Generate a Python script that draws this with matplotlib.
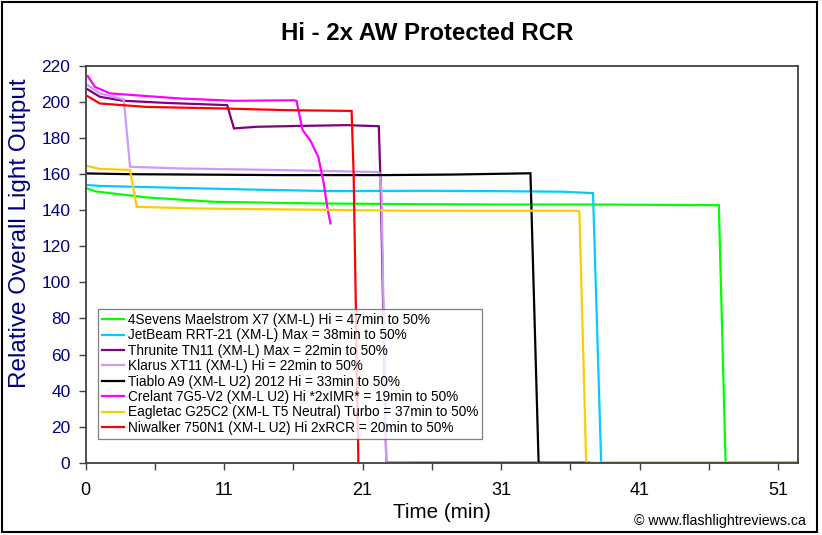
import matplotlib
matplotlib.use("Agg")
import matplotlib.pyplot as plt
from matplotlib.patches import Rectangle

plt.rcParams['font.family'] = ['Liberation Sans', 'DejaVu Sans']

# runtime data (time in min, relative output)
green_t = [0.15, 0.7, 2.0, 4.5, 9.4, 16.7, 23.8, 30.0, 37.0, 42.0, 46.55, 47.05, 52.35]
green_v = [152, 150.5, 149.3, 147.1, 144.7, 143.8, 143.4, 143.2, 143.2, 143.0, 142.8, 0, 0]

blue_t = [0.15, 1.0, 6.9, 12.0, 18.2, 25.0, 30.0, 35.0, 37.3, 37.9, 52.35]
blue_v = [154, 153.5, 152.4, 151.5, 150.6, 150.8, 150.6, 150.3, 149.5, 0, 0]

purple_t = [0.15, 1.05, 2.8, 6.0, 10.4, 10.9, 12.6, 16.0, 19.2, 21.55, 21.7, 22.1, 33.1]
purple_v = [207, 202.9, 200.7, 199.5, 198.3, 185.4, 186.3, 186.8, 187.2, 186.6, 150, 0, 0]

lav_t = [0.15, 1.05, 2.8, 3.26, 6.9, 14.3, 21.4, 21.6, 21.75, 22.1, 23.7]
lav_v = [209.4, 204.8, 201.4, 164.1, 163.2, 162.3, 161.2, 160.7, 150, 0, 0]

black_t = [0.15, 3.3, 14.3, 22.0, 27.0, 32.7, 33.3, 37.0]
black_v = [160.4, 160.0, 159.5, 159.5, 159.8, 160.5, 0, 0]

mag_t = [0.15, 0.68, 1.8, 6.9, 10.85, 15.3, 15.5, 15.95, 16.5, 17.1, 17.5, 17.8, 18.0]
mag_v = [214.4, 208.4, 204.8, 202, 200.7, 201, 200.7, 184.4, 178.9, 169.6, 154.9, 140, 132.7]

yel_t = [0.15, 1.0, 3.26, 3.75, 8.0, 14.3, 23.9, 30.0, 36.2, 36.3, 36.8, 52.35]
yel_v = [164.5, 163, 162.3, 141.9, 141, 140.5, 139.7, 139.7, 139.7, 139, 0, 0]

red_t = [0.15, 1.05, 4.5, 10.4, 14.8, 19.4, 19.55, 19.7, 20.05]
red_v = [203.2, 199.2, 197.3, 196.4, 195.5, 195.1, 195.1, 160, 0]

labels = [
    '4Sevens Maelstrom X7 (XM-L) Hi = 47min to 50%',
    'JetBeam RRT-21 (XM-L) Max = 38min to 50%',
    'Thrunite TN11 (XM-L) Max = 22min to 50%',
    'Klarus XT11 (XM-L) Hi = 22min to 50%',
    'Tiablo A9 (XM-L U2) 2012 Hi = 33min to 50%',
    'Crelant 7G5-V2 (XM-L U2) Hi *2xIMR* = 19min to 50%',
    'Eagletac G25C2 (XM-L T5 Neutral) Turbo = 37min to 50%',
    'Niwalker 750N1 (XM-L U2) Hi 2xRCR = 20min to 50%',
]
colors = ['#00ff00', '#00ccff', '#800080', '#cc99ff', '#000000', '#ff00ff', '#ffcc00', '#ff0000']

xtick_labels = ['0', '11', '21', '31', '41', '51']
label_step = 10.18  # minutes between labelled ticks (excel category axis)
x_max = 52.35

series = [(green_t, green_v), (blue_t, blue_v), (purple_t, purple_v), (lav_t, lav_v),
          (black_t, black_v), (mag_t, mag_v), (yel_t, yel_v), (red_t, red_v)]

fig = plt.figure(figsize=(8.22, 5.35), dpi=100)
ax = fig.add_axes([85.7/822, 1-462.7/535, 712/822, 396.7/535])

for (t, v), c, lab in zip(series, colors, labels):
    ax.plot(t, v, color=c, lw=1.6, label=lab, solid_joinstyle='miter')

ax.set_yticks(range(0, 221, 20))
ax.set_xticks([i*label_step for i in range(len(xtick_labels))])
ax.set_xticklabels(xtick_labels)
minor = [(i+0.5)*label_step for i in range(len(xtick_labels))]
ax.set_xticks([m for m in minor if m < x_max], minor=True)
# limits after the ticks, set_xticks would widen them
ax.set_xlim(0, x_max)
ax.set_ylim(0, 220)

ax.tick_params(axis='y', direction='out', length=5, width=1, colors='#404040',
               labelcolor='#000080', labelsize=12.5, pad=6)
ax.tick_params(axis='x', which='both', direction='out', length=5, width=1, colors='#404040',
               labelcolor='black', labelsize=13, pad=9)
for s in ax.spines.values():
    s.set_color('#404040')
    s.set_linewidth(1.3)

leg = ax.legend(loc='upper left', bbox_to_anchor=(0.0177, 0.3874), borderaxespad=0,
                fontsize=9.8, frameon=True, fancybox=False, handlelength=1.6,
                handletextpad=0.25, labelspacing=0.1, borderpad=0.3)
leg.get_frame().set_edgecolor('#606060')
leg.get_frame().set_linewidth(0.9)

fig.text(427.5/822, 1-40/535, 'Hi - 2x AW Protected RCR', ha='center', va='baseline',
         fontsize=17.3, fontweight='bold')
fig.text(442/822, 1-518/535, 'Time (min)', ha='center', va='baseline', fontsize=14.9)
fig.text(20/822, 1-233.5/535, 'Relative Overall Light Output', ha='center', va='center',
         rotation=90, fontsize=17.5, color='#000080')
fig.text(806/822, 1-525/535, '\u00a9 www.flashlightreviews.ca', ha='right', va='baseline',
         fontsize=10.2)

fig.patches.append(Rectangle((2/822, 3/535), 815/822, 530/535, transform=fig.transFigure,
                             fill=False, edgecolor='black', lw=1.5))

fig.savefig('out.png', dpi=100)
